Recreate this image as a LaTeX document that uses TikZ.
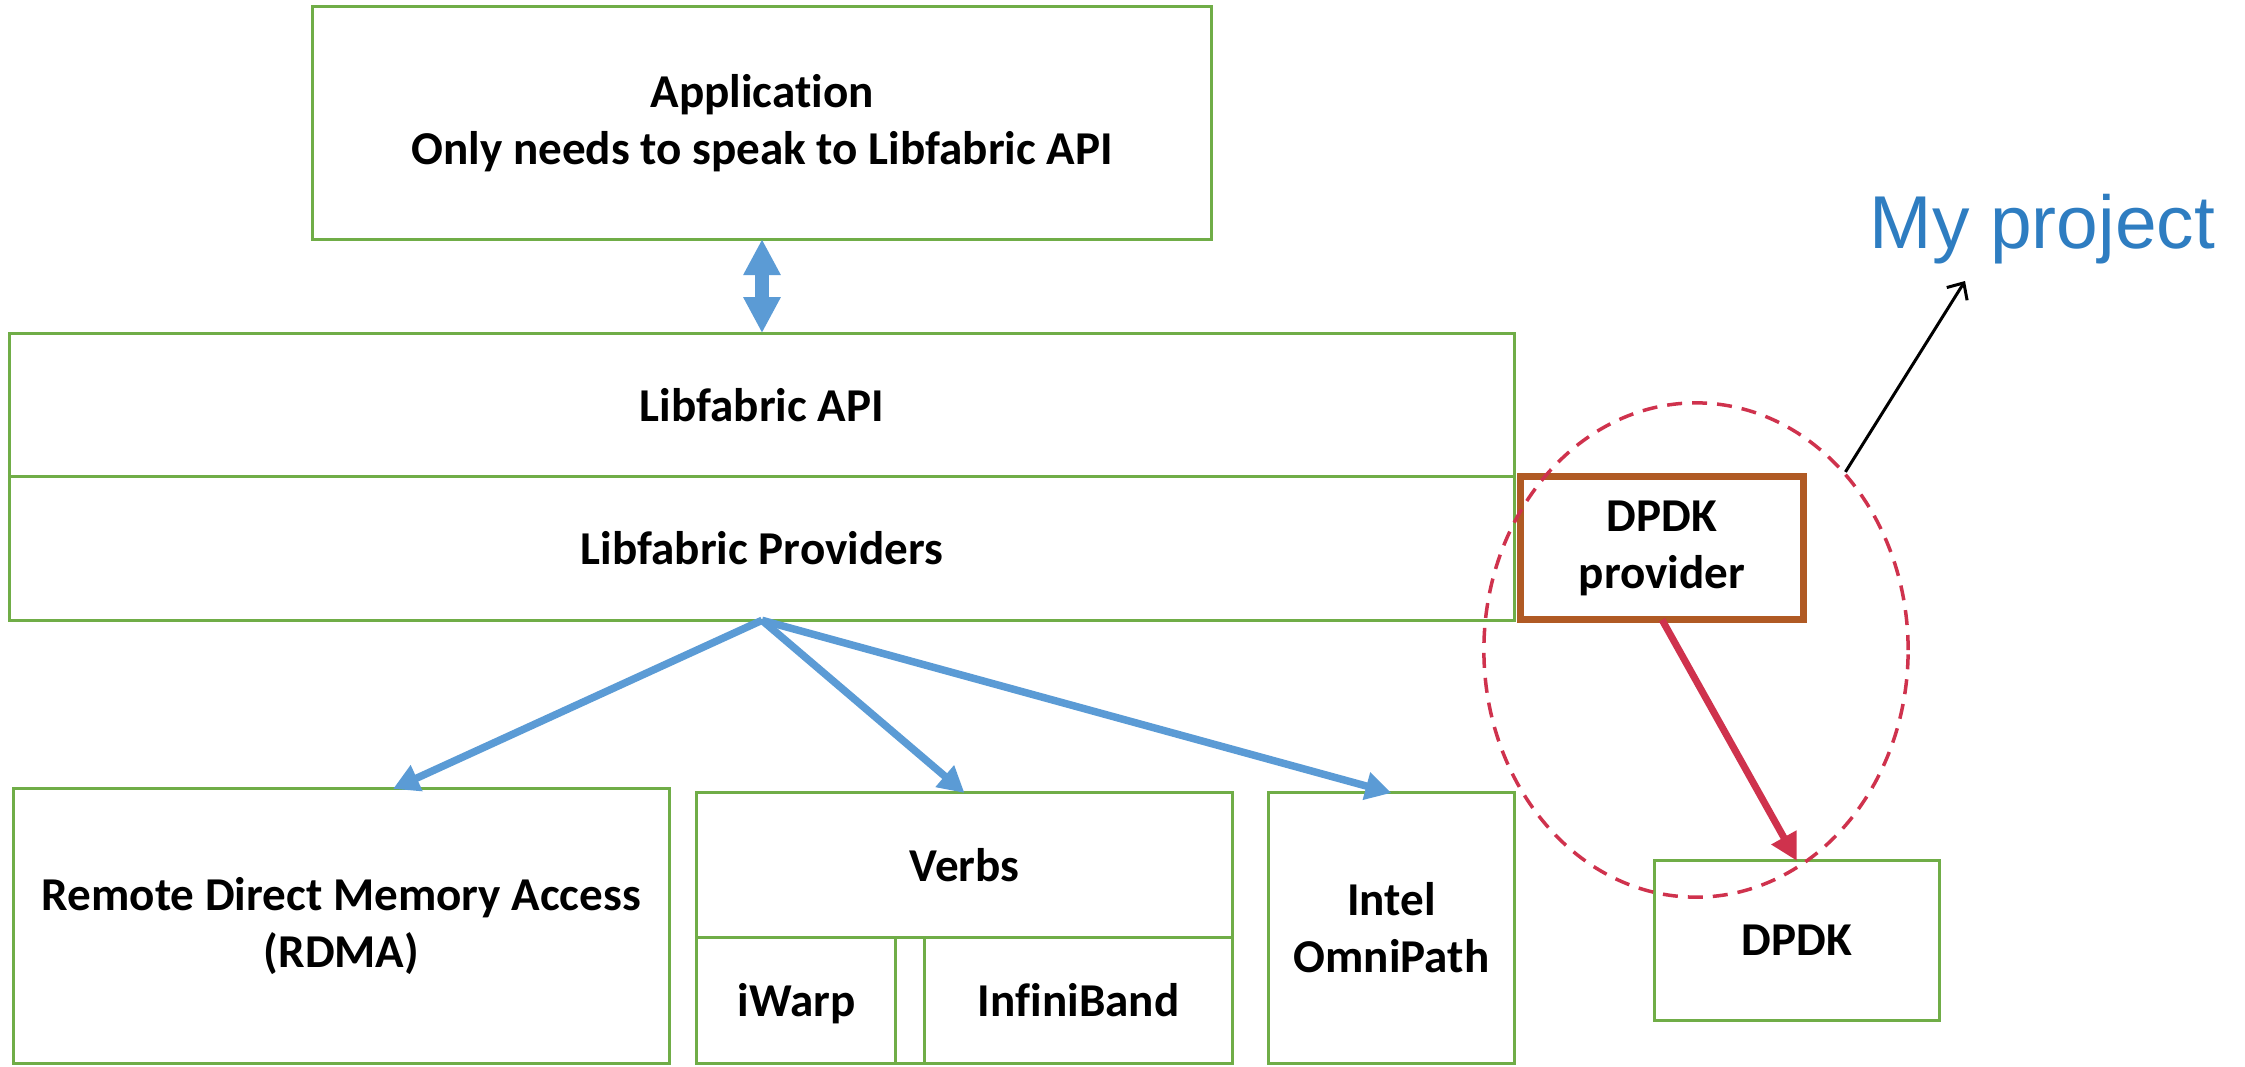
\documentclass[tikz,border=0pt]{standalone}
\usepackage{fontspec}
\setmainfont{Carlito}[Ligatures=NoCommon]
\newfontfamily\projfont{Liberation Sans}
\usepackage{xcolor}
\usepackage{tikz}
\usetikzlibrary{positioning,shapes.geometric,arrows.meta}

\definecolor{boxgreen}{RGB}{112,173,71}
\definecolor{arrblue}{RGB}{91,155,213}
\definecolor{provbrown}{RGB}{176,90,36}
\definecolor{prjred}{RGB}{207,50,77}
\definecolor{prjblue}{RGB}{46,125,193}

\begin{document}
\begin{tikzpicture}[x=0.01cm,y=-0.01cm]
        % Styles
        \tikzstyle{box} = [rectangle,draw=boxgreen,line width=0.85pt,inner sep=0pt,
        outer sep=0pt,align=center,font=\fontsize{13.4}{16.2}\selectfont\bfseries]
        \tikzstyle{provbox} = [box,draw=provbrown,line width=0.07cm]
        \tikzstyle{fanout} = [draw=arrblue,line width=0.075cm,
        -{Triangle[width=0.27cm,length=0.26cm]}]

        \useasboundingbox (0,0) rectangle (2245,1066);

        % Nodes
        \node (app)     [box, minimum width=8.98cm, minimum height=2.32cm] at (762,123)
                        {Application\\Only needs to speak to Libfabric API};
        \node (api)     [box, minimum width=15.04cm, minimum height=1.43cm, below=0.94cm of app]
                        {Libfabric API};
        \node (prov)    [box, minimum width=15.04cm, minimum height=1.44cm, below=0pt of api]
                        {Libfabric Providers};
        \node (dprov)   [provbox, minimum width=2.83cm, minimum height=1.43cm, right=0.06cm of prov]
                        {DPDK\\provider};

        \node (rdma)    [box, minimum width=6.55cm, minimum height=2.74cm] at (341.5,926)
                        {Remote Direct Memory Access\\(RDMA)};
        \node (verbs)   [box, minimum width=5.35cm, minimum height=1.44cm] at (964.5,865) {Verbs};
        \node (iwarp)   [box, minimum width=1.99cm, minimum height=1.26cm, text depth=0pt,
                        below right=0pt and 0pt of verbs.south west] {iWarp};
        \node (gap)     [box, minimum width=0.29cm, minimum height=1.26cm, right=0pt of iwarp] {};
        \node (ib)      [box, minimum width=3.07cm, minimum height=1.26cm, text depth=0pt,
                        right=0pt of gap] {InfiniBand};
        \node (omni)    [box, minimum width=2.45cm, minimum height=2.70cm] at (1391.5,928)
                        {Intel\\OmniPath};
        \node (dpdk)    [box, minimum width=2.84cm, minimum height=1.59cm] at (1797,940.5) {DPDK};

        \node (prj)     [ellipse, draw=prjred, line width=0.035cm, dash pattern=on 0.15cm off 0.1cm,
                        minimum width=4.24cm, minimum height=4.94cm, inner sep=0pt] at (1696,650) {};
        \node (mytxt)   [anchor=base west, inner sep=0pt, text=prjblue,
                        font=\projfont\fontsize{21.3}{25}\selectfont] at (1869,248) {My project};
        \coordinate (mytip) at (1965,281);

        % Edges
        \draw [draw=arrblue, line width=0.14cm,
               {Triangle[width=0.35cm,length=0.36cm]}-{Triangle[width=0.35cm,length=0.36cm]}]
               (app.south) -- (api.north);
        \draw [fanout] (prov.south) -- ([xshift=0.515cm]rdma.north);
        \draw [fanout] (prov.south) -- (verbs.north);
        \draw [fanout] (prov.south) -- (omni.north);
        \draw [draw=prjred, line width=0.07cm, -{Triangle[width=0.27cm,length=0.27cm]}]
               (dprov.south) -- (dpdk.north);
        \draw [line width=0.03cm, -{Straight Barb[width=0.24cm,length=0.13cm]}]
               (prj.50) -- (mytip);

    \end{tikzpicture}
\end{document}
